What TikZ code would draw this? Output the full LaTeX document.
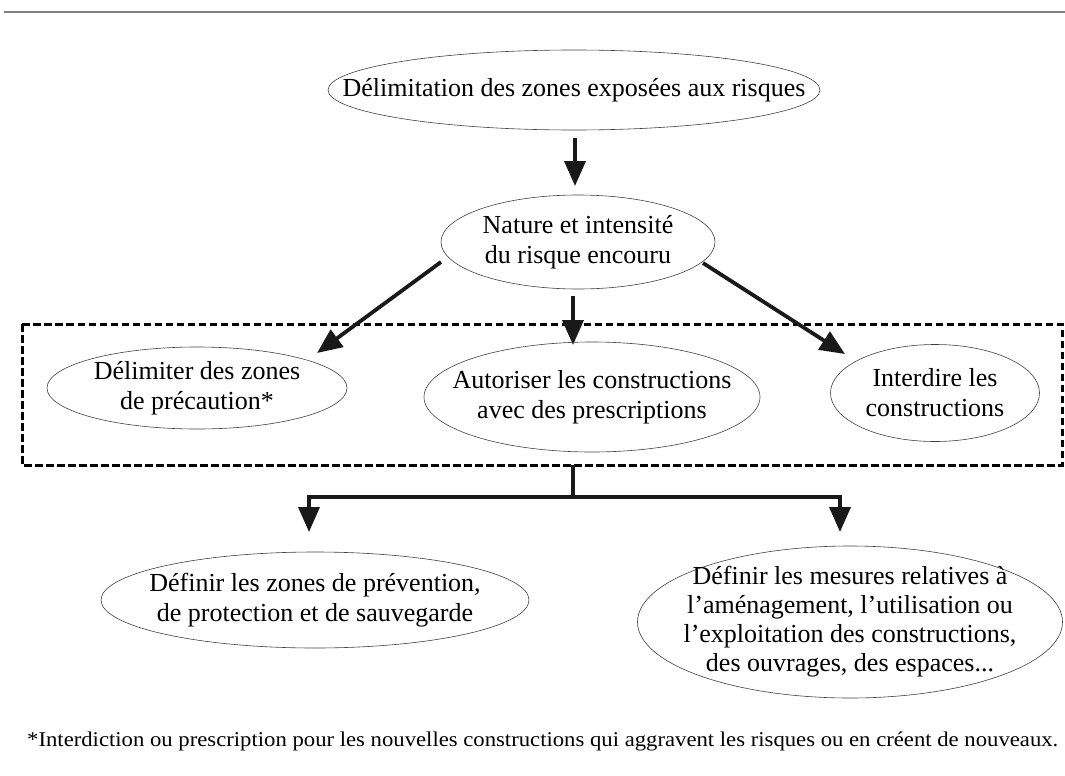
\documentclass[tikz,border=0pt]{standalone}
\usepackage{fontspec}
\setmainfont{Liberation Serif}
\usetikzlibrary{arrows.meta,shapes.geometric}
\begin{document}
\begin{tikzpicture}[x=1pt,y=-1pt,
  oval/.style={ellipse,draw=black!75,line width=0.6pt,inner sep=0pt},
  txt/.style={inner sep=0pt,align=center,font=\fontsize{26}{30}\selectfont},
  arr/.style={line width=3.8pt,draw=black!90,-{Triangle[length=25pt,width=21pt]}},
  conn/.style={line width=3.8pt,draw=black!90},
  zone/.style={draw=black,line width=3pt,dash pattern=on 7.5pt off 3.5pt}
]
\useasboundingbox (0,0) rectangle (1065,776);
\draw[gray,line width=1.2pt] (4,12) -- (1065,12);

\node[oval,minimum width=492pt,minimum height=80pt] (e1) at (574,90) {};
\node[txt] (t1) at (e1) {Délimitation des zones exposées aux risques};
\node[oval,minimum width=274pt,minimum height=94pt] (e2) at (578,242) {};
\node[txt] (t2) at (e2) {Nature et intensité\\du risque encouru};

\draw[zone] (22,324) rectangle (1062,465);
\coordinate (boxbottom) at (573,465);

\node[oval,minimum width=300pt,minimum height=82pt] (e3) at (197,388) {};
\node[txt] (t3) at (e3) {Délimiter des zones\\de précaution*};
\node[oval,minimum width=336pt,minimum height=110pt] (e4) at (592,397) {};
\node[txt] (t4) at (e4) {Autoriser les constructions\\avec des prescriptions};
\node[oval,minimum width=209pt,minimum height=97pt] (e5) at (935,393) {};
\node[txt] (t5) at (e5) {Interdire les\\constructions};

\node[oval,minimum width=428pt,minimum height=96pt] (e6) at (315,600) {};
\node[txt] (t6) at (e6) {Définir les zones de prévention,\\de protection et de sauvegarde};
\node[oval,minimum width=425pt,minimum height=152pt] (e7) at (850,622) {};
\node[txt,font=\fontsize{26}{29}\selectfont] (t7) at (e7) {Définir les mesures relatives à\\l’aménagement, l’utilisation ou\\l’exploitation des constructions,\\des ouvrages, des espaces...};

\coordinate (a1s) at (575,138); \coordinate (a1e) at (575,186);
\coordinate (a2s) at (441,262); \coordinate (a2e) at (317,353);
\coordinate (a3s) at (573,296); \coordinate (a3e) at (573,345);
\coordinate (a4s) at (703,263); \coordinate (a4e) at (845,354);
\coordinate (split) at (573,497);
\coordinate (bl) at (309,497); \coordinate (br) at (840,497);
\coordinate (ble) at (309,532); \coordinate (bre) at (840,532);

\draw[arr] (a1s) -- (a1e);
\draw[arr] (a2s) -- (a2e);
\draw[arr] (a3s) -- (a3e);
\draw[arr] (a4s) -- (a4e);
\draw[conn] (boxbottom) -- (split);
\draw[conn,line cap=rect] (bl) -- (br);
\draw[arr] (bl) -- (ble);
\draw[arr] (br) -- (bre);

\node[anchor=base west,inner sep=0pt] (note) at (27,746) {\resizebox{1031pt}{\height}{\fontsize{21}{24}\selectfont *Interdiction ou prescription pour les nouvelles constructions qui aggravent les risques ou en créent de nouveaux.}};
\end{tikzpicture}
\end{document}
